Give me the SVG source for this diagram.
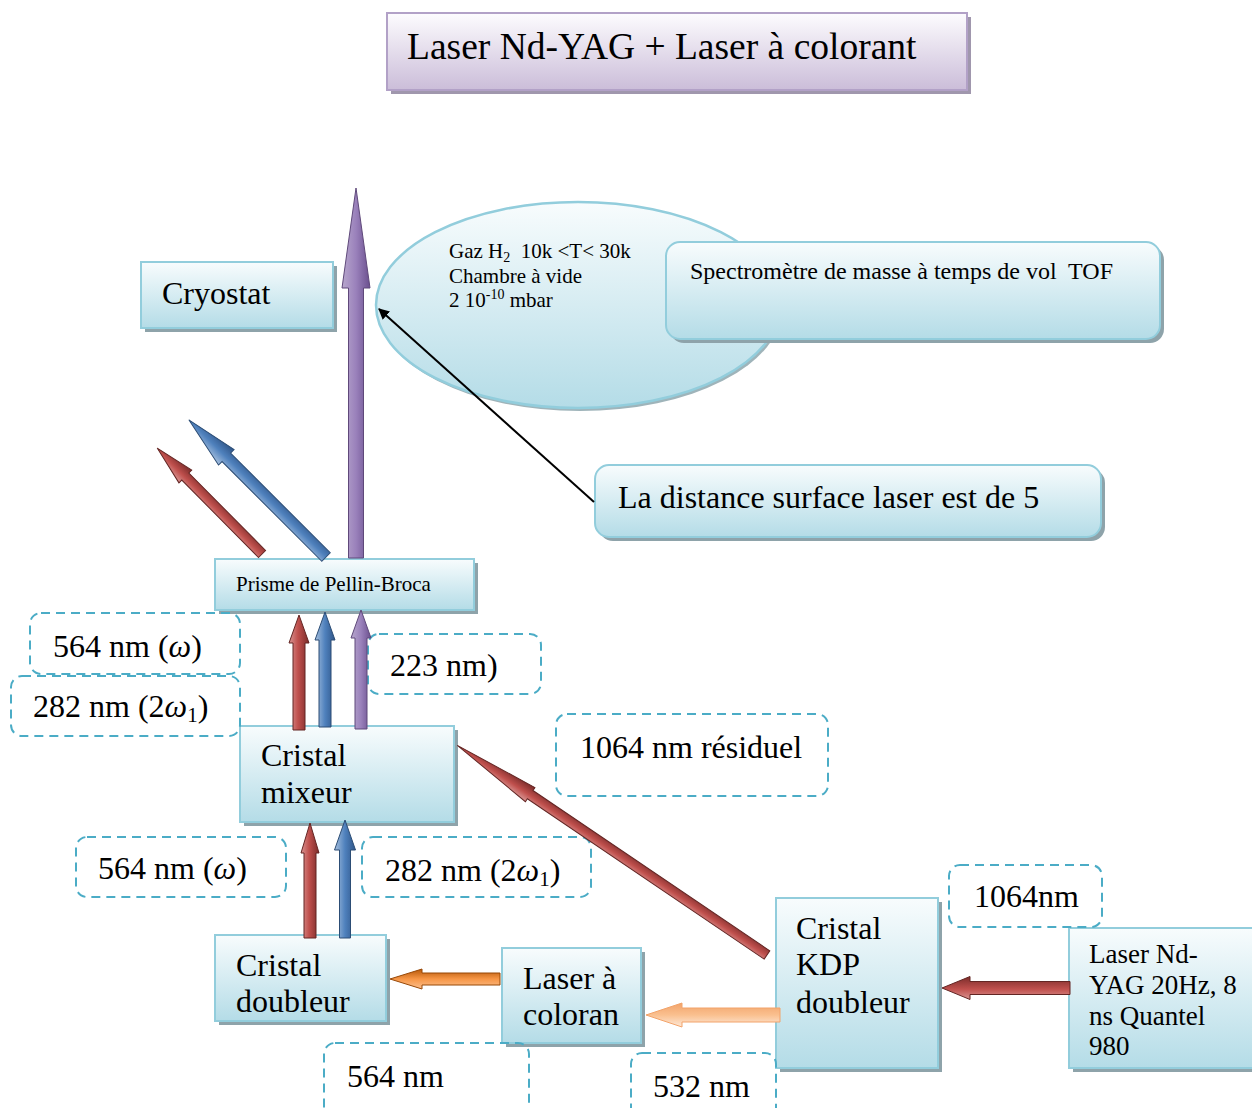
<svg xmlns="http://www.w3.org/2000/svg" width="1252" height="1108" viewBox="0 0 1252 1108">
<defs>
<linearGradient id="gBox" x1="0" y1="0" x2="0" y2="1"><stop offset="0" stop-color="#f8fcfd"/><stop offset="1" stop-color="#b4dce7"/></linearGradient>
<linearGradient id="gTitle" x1="0" y1="0" x2="0" y2="1"><stop offset="0" stop-color="#fdfcfe"/><stop offset="1" stop-color="#cbbdd9"/></linearGradient>
<linearGradient id="gRed" x1="0" y1="0" x2="0" y2="1"><stop offset="0" stop-color="#d99694"/><stop offset="0.45" stop-color="#c0504d"/><stop offset="1" stop-color="#7b2c2a"/></linearGradient>
<linearGradient id="gBlue" x1="0" y1="0" x2="0" y2="1"><stop offset="0" stop-color="#a7c0de"/><stop offset="0.5" stop-color="#4f81bd"/><stop offset="1" stop-color="#2f5588"/></linearGradient>
<linearGradient id="gPurple" x1="0" y1="0" x2="0" y2="1"><stop offset="0" stop-color="#b8a8cd"/><stop offset="0.5" stop-color="#9a81bb"/><stop offset="1" stop-color="#6a4f8e"/></linearGradient>
<linearGradient id="gOrange" x1="0" y1="0" x2="0" y2="1"><stop offset="0" stop-color="#fac090"/><stop offset="0.5" stop-color="#f79646"/><stop offset="1" stop-color="#b65708"/></linearGradient>
<linearGradient id="gLOrange" x1="0" y1="0" x2="0" y2="1"><stop offset="0" stop-color="#fde9d9"/><stop offset="0.5" stop-color="#fac08f"/><stop offset="1" stop-color="#f2a36a"/></linearGradient>
<marker id="mBlack" viewBox="0 0 10 10" refX="9" refY="5" markerWidth="11" markerHeight="11" orient="auto" markerUnits="userSpaceOnUse"><path d="M0,0 L10,5 L0,10 Z" fill="#000"/></marker>
</defs>
<style>
.box{fill:url(#gBox);stroke:#92cddc;stroke-width:2}
.sh{fill:#8ea3aa}
.dash{fill:none;stroke:#4bacc6;stroke-width:2;stroke-dasharray:9,6}
.t{font-family:"Liberation Serif","Times New Roman",serif;fill:#000}
.big{font-size:32px}
.mid{font-size:27px}
.sm{font-size:21px}
.red{fill:url(#gRed);stroke:#632523;stroke-width:1}
.blue{fill:url(#gBlue);stroke:#2c4d75;stroke-width:1}
.purple{fill:url(#gPurple);stroke:#5f497a;stroke-width:1}
.orange{fill:url(#gOrange);stroke:#984807;stroke-width:1}
.lorange{fill:url(#gLOrange);stroke:#f2a36a;stroke-width:1}
</style>

<g id="title">
<rect x="391" y="17" width="580" height="77" fill="#a097ad"/>
<rect x="387" y="13" width="580" height="77" fill="url(#gTitle)" stroke="#b2a1c7" stroke-width="2"/>
<text class="t" x="407" y="59" font-size="37.5">Laser Nd-YAG + Laser à colorant</text>
</g>

<g id="cryostat">
<rect class="sh" x="145" y="266" width="192" height="66"/>
<rect class="box" x="141" y="262" width="192" height="66"/>
<text class="t big" x="162" y="304">Cryostat</text>
</g>

<g id="chambre">
<ellipse cx="580" cy="308" rx="202" ry="103" fill="#9fb4ba"/>
<ellipse cx="578" cy="305" rx="202" ry="103" fill="url(#gBox)" stroke="#92cddc" stroke-width="2.5"/>
<text class="t sm" x="449" y="258">Gaz H<tspan font-size="14" dy="4">2</tspan><tspan dy="-4" xml:space="preserve">  10k &lt;T&lt; 30k</tspan></text>
<text class="t sm" x="449" y="283">Chambre à vide</text>
<text class="t sm" x="449" y="307">2 10<tspan font-size="14" dy="-8">-10</tspan><tspan dy="8"> mbar</tspan></text>
</g>

<g id="spectrometre">
<rect class="sh" x="670" y="246" width="494" height="97" rx="14"/>
<rect class="box" x="666" y="242" width="494" height="97" rx="14"/>
<text class="t" x="690" y="279" font-size="24" xml:space="preserve">Spectromètre de masse à temps de vol  TOF</text>
</g>

<g id="distance">
<rect class="sh" x="599" y="469" width="506" height="72" rx="14"/>
<rect class="box" x="595" y="465" width="506" height="72" rx="14"/>
<text class="t big" x="618" y="508">La distance surface laser est de 5</text>
</g>

<g id="prisme">
<rect class="sh" x="219" y="563" width="259" height="51"/>
<rect class="box" x="215" y="559" width="259" height="51"/>
<text class="t sm" x="236" y="591">Prisme de Pellin-Broca</text>
</g>

<g id="mixeur">
<rect class="sh" x="244" y="730" width="214" height="96"/>
<rect class="box" x="240" y="726" width="214" height="96"/>
<text class="t big" x="261" y="766">Cristal</text>
<text class="t big" x="261" y="803">mixeur</text>
</g>

<g id="doubleur">
<rect class="sh" x="219" y="939" width="171" height="86"/>
<rect class="box" x="215" y="935" width="171" height="86"/>
<text class="t big" x="236" y="976">Cristal</text>
<text class="t big" x="236" y="1012">doubleur</text>
</g>

<g id="colorant">
<rect class="sh" x="506" y="952" width="139" height="95"/>
<rect class="box" x="502" y="948" width="139" height="95"/>
<text class="t big" x="523" y="989">Laser à</text>
<text class="t big" x="523" y="1025">coloran</text>
</g>

<g id="kdp">
<rect class="sh" x="780" y="902" width="162" height="170"/>
<rect class="box" x="776" y="898" width="162" height="170"/>
<text class="t big" x="796" y="939">Cristal</text>
<text class="t big" x="796" y="975">KDP</text>
<text class="t big" x="796" y="1013">doubleur</text>
</g>

<g id="ndyag">
<rect class="sh" x="1073" y="932" width="190" height="140"/>
<rect class="box" x="1069" y="928" width="190" height="140"/>
<text class="t mid" x="1089" y="963">Laser Nd-</text>
<text class="t mid" x="1089" y="994">YAG 20Hz, 8</text>
<text class="t mid" x="1089" y="1025">ns Quantel</text>
<text class="t mid" x="1089" y="1055">980</text>
</g>

<g id="labels">
<g id="l564a"><rect class="dash" x="30" y="613" width="210" height="61" rx="11"/><text class="t big" x="53" y="657">564 nm (<tspan font-style="italic">ω</tspan>)</text></g>
<g id="l282a"><rect class="dash" x="11" y="676" width="229" height="60" rx="11"/><text class="t big" x="33" y="717">282 nm (2<tspan font-style="italic">ω</tspan><tspan font-size="21" dy="5">1</tspan><tspan dy="-5">)</tspan></text></g>
<g id="l223"><rect class="dash" x="368" y="634" width="173" height="60" rx="11"/><text class="t big" x="390" y="676">223 nm)</text></g>
<g id="l1064r"><rect class="dash" x="556" y="714" width="272" height="82" rx="11"/><text class="t big" x="580" y="758">1064 nm résiduel</text></g>
<g id="l564b"><rect class="dash" x="76" y="837" width="210" height="60" rx="11"/><text class="t big" x="98" y="879">564 nm (<tspan font-style="italic">ω</tspan>)</text></g>
<g id="l282b"><rect class="dash" x="362" y="837" width="229" height="60" rx="11"/><text class="t big" x="385" y="881">282 nm (2<tspan font-style="italic">ω</tspan><tspan font-size="21" dy="5">1</tspan><tspan dy="-5">)</tspan></text></g>
<g id="l1064"><rect class="dash" x="949" y="865" width="153" height="62" rx="11"/><text class="t big" x="974" y="907">1064nm</text></g>
<g id="l564"><rect class="dash" x="324" y="1043" width="205" height="80" rx="11"/><text class="t big" x="347" y="1087">564 nm</text></g>
<g id="l532"><rect class="dash" x="631" y="1053" width="145" height="70" rx="11"/><text class="t big" x="653" y="1097">532 nm</text></g>
</g>

<g id="connectors">
<path class="purple" transform="translate(356,558) rotate(-90)" d="M0,-7.5 H270 V-14 L370,0 L270,14 V7.5 H0 Z"/>
<path class="blue" transform="translate(326,557) rotate(-135)" d="M0,-6 H141 V-11 L194,0 L141,11 V6 H0 Z"/>
<path class="red" transform="translate(262,554) rotate(-134.7)" d="M0,-5 H109 V-9 L149,0 L109,9 V5 H0 Z"/>
<path class="red" transform="translate(299,730) rotate(-90)" d="M0,-6 H87 V-10 L115,0 L87,10 V6 H0 Z"/>
<path class="blue" transform="translate(325,727) rotate(-90)" d="M0,-6 H87 V-10 L115,0 L87,10 V6 H0 Z"/>
<path class="purple" transform="translate(361,729) rotate(-90)" d="M0,-6 H91 V-10 L119,0 L91,10 V6 H0 Z"/>
<path class="red" transform="translate(310,938) rotate(-90)" d="M0,-6 H85 V-9 L115,0 L85,9 V6 H0 Z"/>
<path class="blue" transform="translate(345,938) rotate(-90)" d="M0,-5.5 H88 V-10.5 L118,0 L88,10.5 V5.5 H0 Z"/>
<path class="red" transform="translate(767,955) rotate(-145.9)" d="M0,-5 H286 V-8.5 L374,0 L286,8.5 V5 H0 Z"/>
<path class="orange" transform="translate(500,979) rotate(180)" d="M0,-6 H78 V-10 L110,0 L78,10 V6 H0 Z"/>
<path class="lorange" transform="translate(780,1015) rotate(180)" d="M0,-7 H98 V-12 L134,0 L98,12 V7 H0 Z"/>
<path class="red" transform="translate(1070,988) rotate(180)" d="M0,-6.5 H100 V-11.5 L128,0 L100,11.5 V6.5 H0 Z"/>
<line x1="594" y1="502" x2="379" y2="309" stroke="#000" stroke-width="2" marker-end="url(#mBlack)"/>
</g>
</svg>
